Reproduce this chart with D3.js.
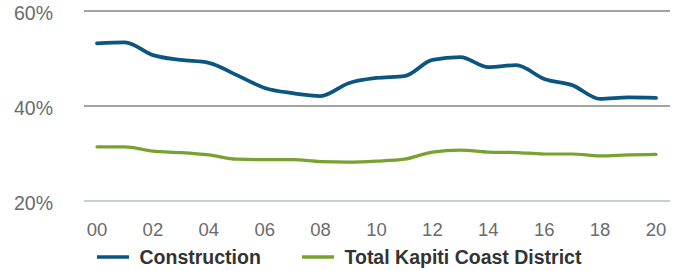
<!DOCTYPE html>
<html><head><meta charset="utf-8">
<script src="https://cdn.jsdelivr.net/npm/d3@7"></script>
<style>body{margin:0;background:#fff}svg{display:block;font-family:"Liberation Sans",Arial,sans-serif}</style>
</head><body><svg id="c" width="678" height="271"></svg>
<script>
const years = ["00","01","02","03","04","05","06","07","08","09","10","11","12","13","14","15","16","17","18","19","20"];
const xTickLabels = ["00","02","04","06","08","10","12","14","16","18","20"];
const construction = [53.2,53.4,50.7,49.7,49.1,46.5,43.8,42.7,42.1,44.8,45.9,46.3,49.7,50.3,48.2,48.6,45.7,44.4,41.5,41.8,41.7];
const kapiti = [31.4,31.4,30.5,30.2,29.7,28.8,28.7,28.7,28.3,28.2,28.4,28.8,30.3,30.7,30.3,30.2,29.9,29.9,29.5,29.7,29.8];
const yTicks = [20,40,60];
const seriesNames = ["Construction","Total Kapiti Coast District"];
const colors = ["#0b5580","#78a22f"];

const svg = d3.select("#c");
const x = d3.scalePoint().domain(years).range([97,656]);
const y = d3.scaleLinear().domain([20,60]).range([201,11]);

// gridlines
svg.append("g").selectAll("line").data(yTicks).join("line")
  .attr("x1",84).attr("x2",670)
  .attr("y1",d=>y(d)).attr("y2",d=>y(d))
  .attr("stroke",d=>d===20?"#c5cedb":"#a3a3a3").attr("stroke-width",2);

// y labels
svg.append("g").selectAll("text").data(yTicks).join("text")
  .attr("x",53).attr("y",d=>y(d)+9).attr("text-anchor","end")
  .attr("font-size",19.5).attr("fill","#6b6b6b").text(d=>d+"%");

// x labels
svg.append("g").selectAll("text").data(xTickLabels).join("text")
  .attr("x",d=>x(d)).attr("y",236).attr("text-anchor","middle")
  .attr("font-size",18.5).attr("fill","#6b6b6b").text(d=>d);

const line = d3.line().x((d,i)=>x(years[i])).y(d=>y(d)).curve(d3.curveMonotoneX);
[construction,kapiti].forEach((s,k)=>{
  svg.append("path").attr("d",line(s)).attr("fill","none")
    .attr("stroke",colors[k]).attr("stroke-width",k===0?3.8:3.2)
    .attr("stroke-linecap","round").attr("stroke-linejoin","round");
});

// legend
const legX = [97,302];
seriesNames.forEach((n,k)=>{
  svg.append("line").attr("x1",legX[k]).attr("x2",legX[k]+32).attr("y1",257).attr("y2",257)
    .attr("stroke",colors[k]).attr("stroke-width",3.5);
  svg.append("text").attr("x",legX[k]+42.5).attr("y",264).attr("font-size",19.5)
    .attr("font-weight","bold").attr("fill","#333").text(n);
});
</script></body></html>
